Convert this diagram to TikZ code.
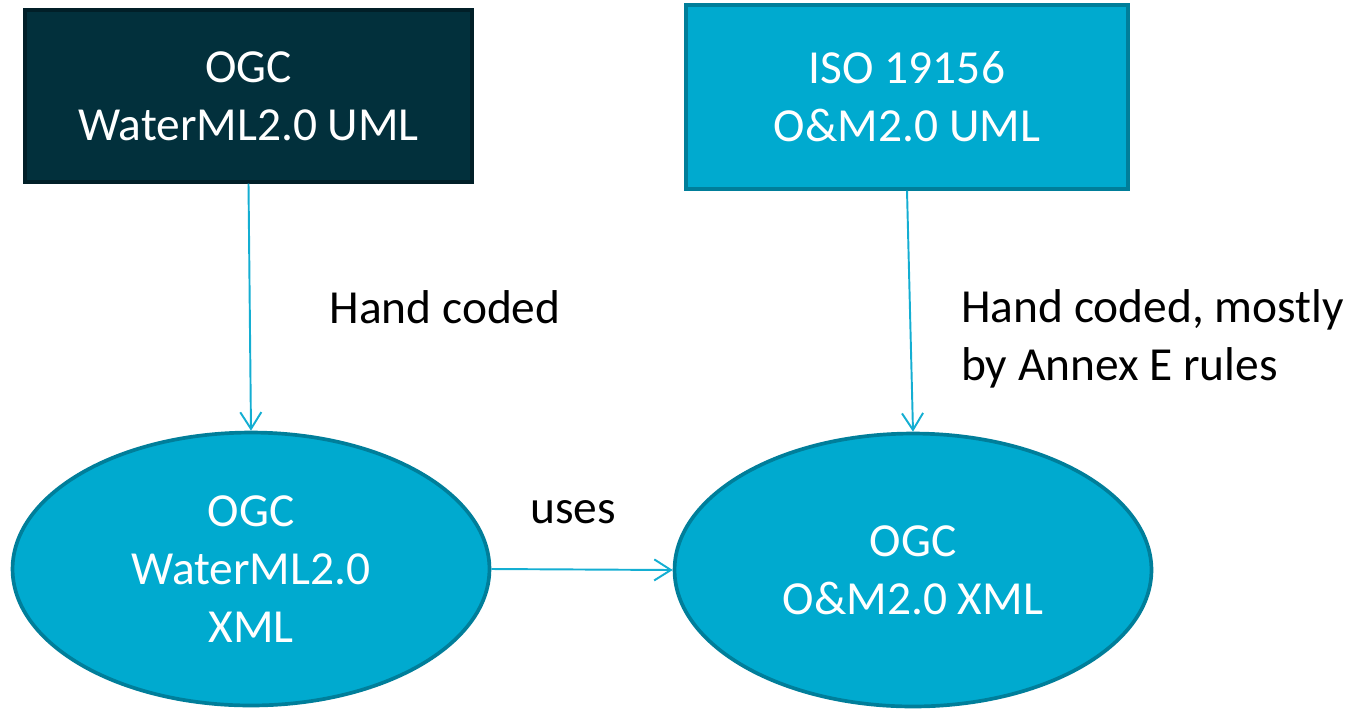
\documentclass[tikz,border=0pt]{standalone}
\usepackage{fontspec}
\setmainfont{Carlito}
\usetikzlibrary{shapes.geometric,arrows.meta}
\definecolor{darkteal}{HTML}{02303C}
\definecolor{darkedge}{HTML}{011F28}
\definecolor{cyanfill}{HTML}{00AACF}
\definecolor{cyanedge}{HTML}{007E9A}
\definecolor{linkcol}{HTML}{14AED2}

\begin{document}
\begin{tikzpicture}[x=0.02cm, y=-0.02cm,
        every node/.style={font=\fontsize{27}{33}\selectfont, align=center},
        umlbox/.style={rectangle, line width=1.8pt, text=white},
        xmlnode/.style={ellipse, inner sep=0pt, line width=2.1pt, draw=cyanedge, fill=cyanfill, text=white,
            minimum width=9.54cm, minimum height=5.46cm},
        link/.style={draw=linkcol, line width=1.1pt, -{Straight Barb[length=9.5pt, width=12pt]}}]
        \useasboundingbox (0,0) rectangle (1354,711);

        \node[umlbox, draw=darkedge, fill=darkteal, minimum width=8.94cm, minimum height=3.44cm] (wmluml) at (248.5,96) {OGC\\WaterML2.0 UML};
        \node[umlbox, draw=cyanedge, fill=cyanfill, minimum width=8.84cm, minimum height=3.68cm] (omuml) at (907,97) {ISO 19156\\O\&M2.0 UML};

        \node[xmlnode] (wmlxml) at (251,569) {OGC\\WaterML2.0\\XML};
        \node[xmlnode] (omxml) at (913,570) {OGC\\O\&M2.0 XML};

        \draw[link] (wmluml.south) -- (wmlxml.north);
        \draw[link] (omuml.south) -- (omxml.north);
        \draw[link] (wmlxml.east) -- (omxml.west);

        \node (hand) at (445,307) {Hand coded};
        \node[anchor=west, align=left] (annex) at (955,339) {Hand coded, mostly\\by Annex E rules};
        \node (uses) at (573,512) {uses};
\end{tikzpicture}
\end{document}
